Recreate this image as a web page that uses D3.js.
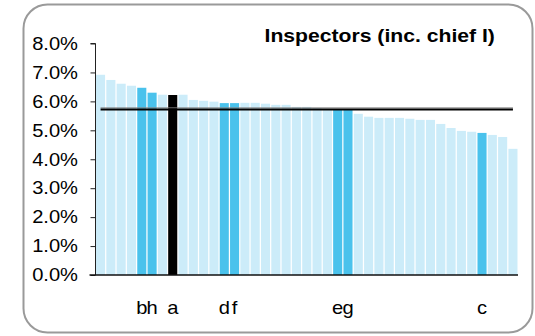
<!DOCTYPE html>
<html>
<head>
<meta charset="utf-8">
<script src="https://cdn.jsdelivr.net/npm/d3@7"></script>
<style>
  html, body { margin: 0; padding: 0; background: #fff; }
  svg { display: block; }
  text { font-family: "Liberation Sans", Arial, sans-serif; }
</style>
</head>
<body>
<svg id="chart" width="535" height="336"></svg>
<script>
const title = "Inspectors (inc. chief I)";
const categories = ["","","","","b","h","","a","","","","","d","f","","","","","","","","","","e","g","","","","","","","","","","","","","c","","",""];
const values = [6.92,6.74,6.61,6.54,6.47,6.30,6.23,6.22,6.23,6.05,6.02,5.99,5.94,5.94,5.95,5.95,5.92,5.88,5.88,5.81,5.81,5.76,5.74,5.71,5.71,5.57,5.47,5.43,5.43,5.43,5.40,5.36,5.36,5.22,5.08,4.98,4.95,4.91,4.84,4.77,4.36];
// 0 = other, 1 = highlighted, 2 = selected
const groups = [0,0,0,0,1,1,0,2,0,0,0,0,1,1,0,0,0,0,0,0,0,0,0,1,1,0,0,0,0,0,0,0,0,0,0,0,0,1,0,0,0];
const average = 5.72;
const yTicks = [0,1,2,3,4,5,6,7,8];

const colors = ["#CCECF9", "#4AC2EC", "#000000"];
const sx = 1.15; // horizontal text stretch
const fs = 17.5;

const svg = d3.select("#chart");

// frame
svg.append("rect")
  .attr("x", 23.5).attr("y", 4.5).attr("width", 509).attr("height", 328)
  .attr("rx", 24).attr("ry", 24)
  .attr("fill", "#fff").attr("stroke", "#9a9a9a").attr("stroke-width", 2);

const idx = values.map((d, i) => i);
const x = d3.scaleBand().domain(idx).range([95.5, 518]).paddingInner(0.12).paddingOuter(0.05);
const y = d3.scaleLinear().domain([0, 8]).range([275, 43.5]);

function stretchedText(sel, tx, ty, anchor, txt, weight, scaleX) {
  return sel.append("text")
    .attr("transform", `translate(${tx},${ty}) scale(${scaleX || sx},1)`)
    .attr("text-anchor", anchor)
    .attr("font-size", fs)
    .attr("font-weight", weight || "normal")
    .attr("fill", "#000")
    .text(txt);
}

// bars
svg.append("g").selectAll("rect").data(values).join("rect")
  .attr("x", (d, i) => x(i))
  .attr("width", x.bandwidth())
  .attr("y", d => y(d))
  .attr("height", d => y(0) - y(d))
  .attr("fill", (d, i) => colors[groups[i]]);

// average line
const lx1 = x(0) + x.bandwidth() / 2, lx2 = x(values.length - 1) + x.bandwidth() / 2;
svg.append("line").attr("x1", lx1).attr("x2", lx2)
  .attr("y1", y(average) - 1.6).attr("y2", y(average) - 1.6)
  .attr("stroke", "#808080").attr("stroke-width", 1);
svg.append("line").attr("x1", lx1).attr("x2", lx2)
  .attr("y1", y(average)).attr("y2", y(average))
  .attr("stroke", "#000").attr("stroke-width", 2.2);

// y axis
const yAxis = d3.axisLeft(y).tickValues(yTicks).tickSize(5).tickFormat("");
const gy = svg.append("g").attr("transform", "translate(95.5,0)").call(yAxis);
gy.select(".domain").attr("stroke", "#222").attr("d", `M-5,${y(8)}H0V${y(0)}`);
gy.selectAll(".tick line").attr("stroke", "#222");
yTicks.forEach(t => {
  stretchedText(svg, 78, y(t) + 6.3, "end", d3.format(".1f")(t) + "%");
});

// x axis
const xAxis = d3.axisBottom(x).tickSize(0).tickFormat("");
const gx = svg.append("g").attr("transform", `translate(0,${y(0)})`).call(xAxis);
gx.select(".domain").attr("stroke", "#111").attr("stroke-width", 1.3).attr("d", "M89.5,0H518");
categories.forEach((c, i) => {
  if (c) stretchedText(svg, x(i) + x.bandwidth() / 2, 313.5, "middle", c);
});

// title
stretchedText(svg, 264.5, 41.5, "start", title, "bold", 1.21);
</script>
</body>
</html>
